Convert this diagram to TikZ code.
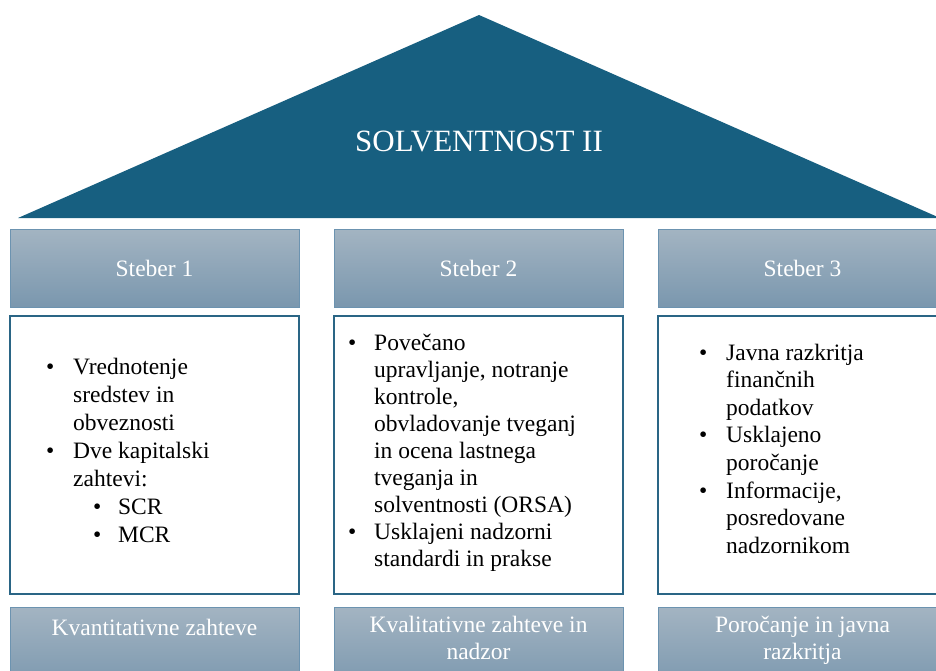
\documentclass[tikz,border=0pt]{standalone}
\usepackage{fontspec}
\setmainfont{Liberation Serif}
\definecolor{roof}{HTML}{175F80}
\definecolor{hdtop}{HTML}{A3B4C2}
\definecolor{hdbot}{HTML}{7A97AE}
\definecolor{hdline}{HTML}{6C93B0}
\definecolor{boxline}{HTML}{2A6585}
\tikzset{
  hdbox/.style={draw=hdline, line width=0.9pt, top color=hdtop, bottom color=hdbot},
  cbox/.style={draw=boxline, line width=1.3pt, fill=white},
  hdtext/.style={text=white, font=\fontsize{23.5}{27}\selectfont, inner sep=0pt, anchor=base, align=center},
  list/.style={inner sep=0pt, anchor=base west, text=black}
}
\begin{document}
\begin{tikzpicture}[x=1pt,y=-1pt]
\useasboundingbox (0,0) rectangle (936,671);
\begin{scope}
\clip (0,0) rectangle (936,671);
% roof
\fill[roof] (18,218) -- (479,15) -- (940,218) -- cycle;
\node[text=white, font=\fontsize{31}{36}\selectfont, inner sep=0pt, anchor=base] (title) at (479,151.5) {SOLVENTNOST II};
% headers
\draw[hdbox] (10,229) rectangle (299,307);
\draw[hdbox] (334,229) rectangle (623,307);
\draw[hdbox] (658,229) rectangle (947,307);
\node[hdtext] (h1) at (154.5,276) {Steber 1};
\node[hdtext] (h2) at (478.5,276) {Steber 2};
\node[hdtext] (h3) at (802.5,276) {Steber 3};
% content boxes
\draw[cbox] (10,316) rectangle (299,594);
\draw[cbox] (334,316) rectangle (623,594);
\draw[cbox] (658,316) rectangle (947,594);
\node[list, font=\fontsize{23.5}{28}\selectfont] (c1) at (46,374) {\begin{tabular}[t]{@{}p{27pt}@{}l@{}}
\textbullet & Vrednotenje\\
 & sredstev in\\
 & obveznosti\\
\textbullet & Dve kapitalski\\
 & zahtevi:\\
 & \hspace{20pt}\makebox[25pt][l]{\textbullet}SCR\\
 & \hspace{20pt}\makebox[25pt][l]{\textbullet}MCR
\end{tabular}};
\node[list, font=\fontsize{23.5}{27.1}\selectfont] (c2) at (348,350) {\begin{tabular}[t]{@{}p{26pt}@{}l@{}}
\textbullet & Povečano\\
 & upravljanje, notranje\\
 & kontrole,\\
 & obvladovanje tveganj\\
 & in ocena lastnega\\
 & tveganja in\\
 & solventnosti (ORSA)\\
\textbullet & Usklajeni nadzorni\\
 & standardi in prakse
\end{tabular}};
\node[list, font=\fontsize{23.5}{27.6}\selectfont] (c3) at (699,360) {\begin{tabular}[t]{@{}p{27pt}@{}l@{}}
\textbullet & Javna razkritja\\
 & finančnih\\
 & podatkov\\
\textbullet & Usklajeno\\
 & poročanje\\
\textbullet & Informacije,\\
 & posredovane\\
 & nadzornikom
\end{tabular}};
% bottom boxes
\draw[hdbox] (10,607) rectangle (299,690);
\draw[hdbox] (334,607) rectangle (623,690);
\draw[hdbox] (658,607) rectangle (947,690);
\node[hdtext] (b1) at (154.5,635.5) {Kvantitativne zahteve};
\node[hdtext, font=\fontsize{23.5}{26.3}\selectfont] (b2) at (478.5,659) {Kvalitativne zahteve in\\nadzor};
\node[hdtext, font=\fontsize{23.5}{26.3}\selectfont] (b3) at (802.5,659) {Poročanje in javna\\razkritja};
\end{scope}
\end{tikzpicture}
\end{document}
